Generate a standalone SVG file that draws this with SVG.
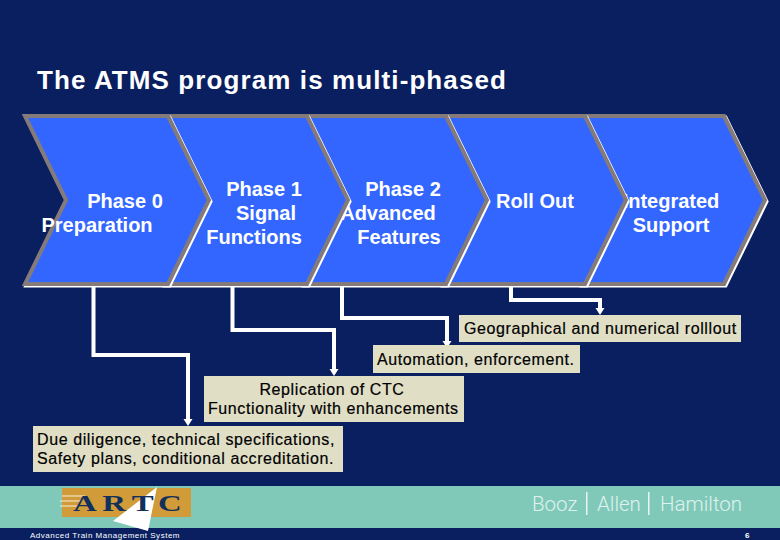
<svg xmlns="http://www.w3.org/2000/svg" width="780" height="540" viewBox="0 0 780 540">
<style>
text{font-family:"Liberation Sans",Arial,sans-serif}
.shadow{fill:#fff;stroke:#fff;stroke-width:4}
.chev{fill:#3366ff;stroke:#857a7a;stroke-width:4;stroke-linejoin:miter}
.ct{font-size:20px;font-weight:bold;fill:#fff;text-anchor:middle}
.box{fill:#e0dfc6}
.bt{font-size:16px;fill:#000;letter-spacing:.6px;stroke:#000;stroke-width:.2}
.conn{fill:none;stroke:#fff;stroke-width:4}
.bah{font-size:20.5px;font-weight:300;fill:#dff2ee}
.bah{font-family:Roboto,"Liberation Sans",sans-serif}
.sep{fill:#e8f5f2}
.stripe{stroke:#f5efd8;stroke-width:1.2}
</style>
<defs>
<marker id="ah" markerUnits="userSpaceOnUse" markerWidth="9" markerHeight="10" refX="0" refY="5" orient="auto"><path d="M0 0.5L7 5L0 9.5Z" fill="#fff"/></marker>
<polygon id="chevshape" points="0,0 143,0 184,84 143,168 0,168 41,84"/>
</defs>
<rect width="780" height="540" fill="#0a1f60"/>
<text x="37" y="89" font-size="26" font-weight="bold" fill="#fff" letter-spacing="1.1">The ATMS program is multi-phased</text>
<g id="phase-support">
<use href="#chevshape" x="581" y="116" class="shadow" transform="translate(1.5 1.5)"/>
<use href="#chevshape" x="581" y="116" class="chev"/>
<text class="ct" x="671" y="208">Integrated</text><text class="ct" x="671" y="232">Support</text>
</g>
<g id="phase-rollout">
<use href="#chevshape" x="442" y="116" class="shadow" transform="translate(1.5 1.5)"/>
<use href="#chevshape" x="442" y="116" class="chev"/>
<text class="ct" x="535" y="208">Roll Out</text>
</g>
<g id="phase-2">
<use href="#chevshape" x="303" y="116" class="shadow" transform="translate(1.5 1.5)"/>
<use href="#chevshape" x="303" y="116" class="chev"/>
<text class="ct" x="403" y="196">Phase 2</text><text class="ct" x="388" y="220">Advanced</text><text class="ct" x="399" y="244">Features</text>
</g>
<g id="phase-1">
<use href="#chevshape" x="164" y="116" class="shadow" transform="translate(1.5 1.5)"/>
<use href="#chevshape" x="164" y="116" class="chev"/>
<text class="ct" x="264" y="196">Phase 1</text><text class="ct" x="266" y="220">Signal</text><text class="ct" x="254" y="244">Functions</text>
</g>
<g id="phase-0">
<use href="#chevshape" x="25" y="116" class="shadow" transform="translate(1.5 1.5)"/>
<use href="#chevshape" x="25" y="116" class="chev"/>
<text class="ct" x="125" y="208">Phase 0</text><text class="ct" x="97" y="232">Preparation</text>
</g>
<g id="connectors">
<path class="conn" marker-end="url(#ah)" d="M93.5 286V355H188V419"/>
<path class="conn" marker-end="url(#ah)" d="M232.5 286V330H334V369"/>
<path class="conn" marker-end="url(#ah)" d="M342 286V318H447V341"/>
<path class="conn" marker-end="url(#ah)" d="M511 286V300H600V308"/>
</g>
<g id="note-rollout"><rect class="box" x="459" y="315" width="282" height="27"/><text class="bt" x="464" y="334">Geographical and numerical rolllout</text></g>
<g id="note-automation"><rect class="box" x="373" y="345" width="207" height="28"/><text class="bt" x="377" y="365">Automation, enforcement.</text></g>
<g id="note-replication"><rect class="box" x="204" y="376" width="260" height="46"/><text class="bt" x="332" y="395" text-anchor="middle">Replication of CTC</text><text class="bt" x="208" y="414">Functionality with enhancements</text></g>
<g id="note-diligence"><rect class="box" x="33" y="426" width="310" height="46"/><text class="bt" x="37" y="445">Due diligence, technical specifications,</text><text class="bt" x="37" y="464">Safety plans, conditional accreditation.</text></g>
<rect y="486" width="780" height="42" fill="#80c9b9"/>
<g id="logo">
<rect x="62" y="488" width="129" height="29" fill="#d19b3a"/>
<path class="stripe" d="M62 496H85M60 501H82M60 506H78"/>
<polygon points="157,487 113,521 148,531" fill="#fff"/>
<text transform="translate(73 511) scale(1.37 1)" x="0 21.4 42.9 62.1" y="0" font-size="24" font-weight="bold" fill="#12305c" style="font-family:'Liberation Serif',serif">ARTC</text>
</g>
<text class="bah" x="532" y="511">Booz</text>
<rect class="sep" x="586" y="492" width="1.5" height="23"/>
<text class="bah" x="597" y="511">Allen</text>
<rect class="sep" x="648" y="492" width="1.5" height="23"/>
<text class="bah" x="660" y="511">Hamilton</text>
<text x="30" y="538" font-size="8" fill="#fff" letter-spacing=".52">Advanced Train Management System</text>
<text x="745" y="538" font-size="8" fill="#fff" font-weight="bold">6</text>
</svg>
